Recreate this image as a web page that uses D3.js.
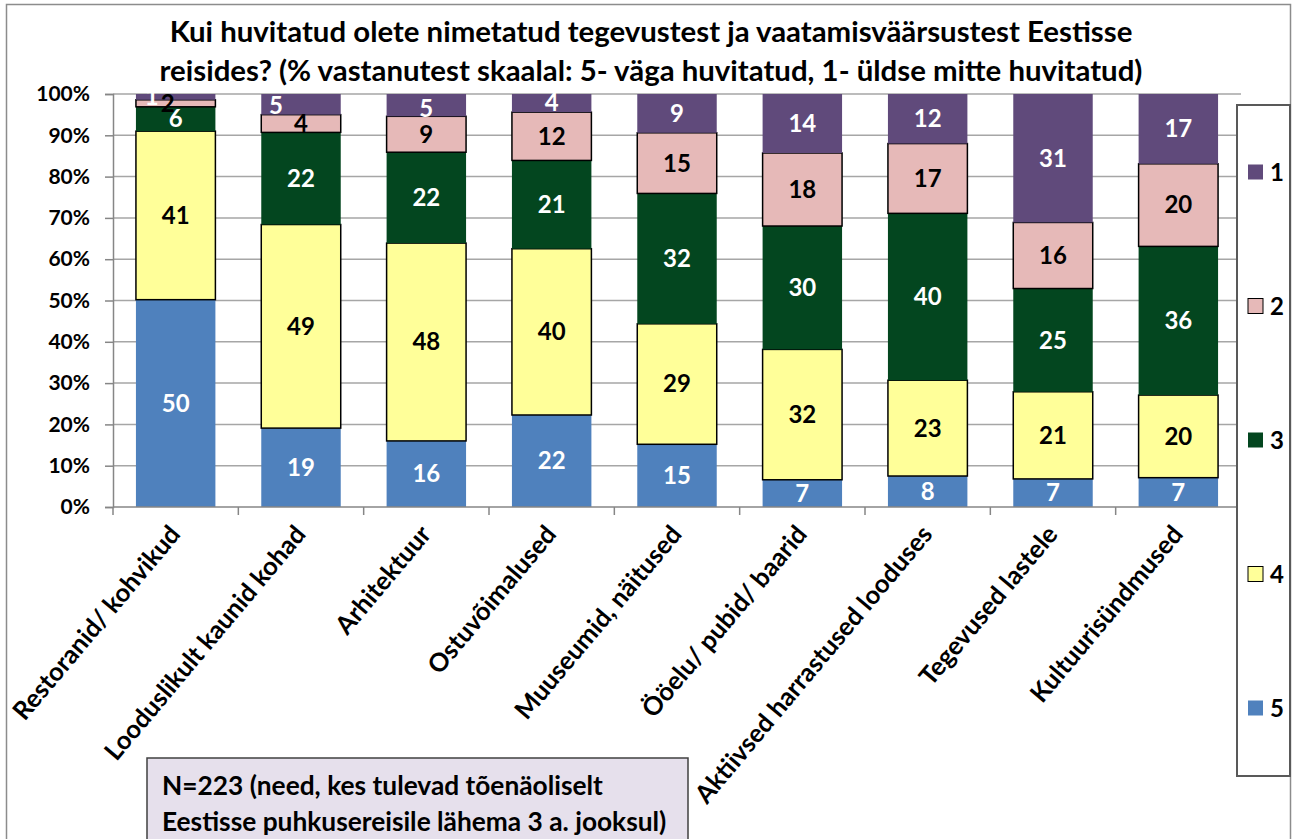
<!DOCTYPE html>
<html><head><meta charset="utf-8">
<script src="https://cdn.jsdelivr.net/npm/d3@7"></script>
<style>
body{margin:0;background:#fff}
svg{display:block}
text{font-family:Lato,"Open Sans",sans-serif;font-weight:700}
</style>
</head><body>
<svg id="chart" width="1292" height="839"></svg>
<script>
// ---- data ----
const categories = ["Restoranid/ kohvikud","Looduslikult kaunid kohad","Arhitektuur","Ostuvõimalused","Muuseumid, näitused","Ööelu/ pubid/ baarid","Aktiivsed harrastused looduses","Tegevused lastele","Kultuurisündmused"];
const seriesNames = ["5","4","3","2","1"];
const s5 = [50.2, 19.1, 16.0, 22.3, 15.2, 6.6, 7.5, 6.8, 7.1];
const s4 = [40.8, 49.3, 47.9, 40.3, 29.2, 31.6, 23.2, 21.1, 20.0];
const s3 = [5.9, 22.3, 22.0, 21.4, 31.6, 29.9, 40.4, 25.0, 36.0];
const s2 = [1.7, 4.3, 8.7, 11.7, 14.7, 17.7, 16.9, 16.0, 20.0];
const s1 = [1.4, 5.0, 5.4, 4.4, 9.4, 14.3, 12.0, 31.1, 16.9];
const yTicks = [0,0.1,0.2,0.3,0.4,0.5,0.6,0.7,0.8,0.9,1];
const titleLines = ["Kui huvitatud olete nimetatud tegevustest ja vaatamisväärsustest Eestisse","reisides? (% vastanutest skaalal: 5- väga huvitatud, 1- üldse mitte huvitatud)"];
const noteLines = ["N=223 (need, kes tulevad tõenäoliselt","Eestisse puhkusereisile lähema 3 a. jooksul)"];

// ---- styles ----
const colors = {"5":"#4F81BD","4":"#FFFF99","3":"#03461F","2":"#E6B9B8","1":"#604A7B"};
const outlined = {"4":true,"2":true};
const labelColor = {"5":"#fff","4":"#000","3":"#fff","2":"#000","1":"#fff"};
const nudge = {"0-1":[-24,0],"0-2":[-8,0],"1-1":[-25,1],"2-1":[0,3]};

const table = categories.map((c,i)=>({cat:c,"5":s5[i],"4":s4[i],"3":s3[i],"2":s2[i],"1":s1[i]}));
const stack = d3.stack().keys(seriesNames).offset(d3.stackOffsetExpand)(table);

const svg = d3.select("#chart");
const L=113,R=1241,T=94,B=507;
const x = d3.scaleBand().domain(categories).range([L,R]).paddingInner(0.366).paddingOuter(0.183);
const y = d3.scaleLinear().domain([0,1]).range([B,T]);

function fit(sel,target){
  const base=30; sel.style("font-size",base+"px");
  const w=sel.node().getComputedTextLength();
  const fs=base*target/w; sel.style("font-size",fs+"px"); return fs;
}

// outer border
svg.append("rect").attr("x",6.5).attr("y",4.5).attr("width",1284).attr("height",840)
  .attr("fill","#fff").attr("stroke","#8c8c8c").attr("stroke-width",1.5);

// gridlines
svg.append("g").selectAll("line").data(yTicks.slice(1)).join("line")
  .attr("x1",L).attr("x2",R).attr("y1",d=>y(d)).attr("y2",d=>y(d))
  .attr("stroke","#a6a6a6").attr("stroke-width",1.5);

// y axis
const yAxis = svg.append("g").attr("transform",`translate(${L},0)`)
  .call(d3.axisLeft(y).tickValues(yTicks).tickFormat(d3.format(".0%")).tickSize(8).tickPadding(15));
yAxis.select(".domain").attr("stroke","#868686").attr("stroke-width",1.5);
yAxis.selectAll(".tick line").attr("stroke","#868686").attr("stroke-width",1.5);
yAxis.selectAll(".tick text").attr("fill","#000").style("font-family","Lato").style("font-weight",700).style("font-size","21px");

// bars
svg.append("clipPath").attr("id","pa").append("rect").attr("x",L).attr("y",T-1).attr("width",R-L).attr("height",B-T+1);
const gBars = svg.append("g");
stack.forEach(layer=>{
  const k=layer.key;
  gBars.append("g").selectAll("rect").data(layer).join("rect")
    .attr("x",d=>x(d.data.cat)).attr("width",x.bandwidth())
    .attr("y",d=>y(d[1])).attr("height",d=>y(d[0])-y(d[1]))
    .attr("fill",colors[k])
    .attr("stroke",outlined[k]?"#000":"none").attr("stroke-width",1.5);
});

// x axis
svg.append("line").attr("x1",L).attr("x2",R).attr("y1",B).attr("y2",B).attr("stroke","#868686").attr("stroke-width",1.5);
const bounds = categories.map(c=>x(c)-(x.step()-x.bandwidth())/2).concat([R]);
svg.append("g").selectAll("line").data(bounds).join("line")
  .attr("x1",d=>d).attr("x2",d=>d).attr("y1",B).attr("y2",B+8).attr("stroke","#868686").attr("stroke-width",1.5);

// data labels
const gLab = svg.append("g").attr("clip-path","url(#pa)");
stack.forEach(layer=>{
  const k=layer.key;
  layer.forEach((d,i)=>{
    const n = nudge[i+"-"+k]||[0,0];
    gLab.append("text")
      .attr("x",x(d.data.cat)+x.bandwidth()/2+n[0])
      .attr("y",(y(d[0])+y(d[1]))/2+n[1])
      .attr("dy","0.35em").attr("text-anchor","middle")
      .attr("fill",labelColor[k]).style("font-size","24px")
      .text(Math.round(d.data[k]));
  });
});

// category labels
const gCat = svg.append("g");
let catFs=null;
categories.forEach((c,i)=>{
  const t = gCat.append("text").attr("text-anchor","end")
    .attr("transform",`translate(${x(c)+x.bandwidth()/2+6},535) rotate(-50)`).text(c);
  if(i===0) catFs=fit(t,244); else t.style("font-size",catFs+"px");
});

// title
const t1 = svg.append("text").attr("x",651).attr("y",42).attr("text-anchor","middle").text(titleLines[0]);
const tfs = fit(t1,963);
svg.append("text").attr("x",651).attr("y",81).attr("text-anchor","middle").style("font-size",tfs+"px").text(titleLines[1]);

// legend
svg.append("rect").attr("x",1237).attr("y",105).attr("width",53).attr("height",671)
  .attr("fill","#fff").attr("stroke","#595959").attr("stroke-width",2);
const ly = d3.scalePoint().domain(["1","2","3","4","5"]).range([172,708]);
const lg = svg.append("g").selectAll("g").data(ly.domain()).join("g").attr("transform",d=>`translate(1248,${ly(d)})`);
lg.append("rect").attr("x",0).attr("y",-7.5).attr("width",15).attr("height",15)
  .attr("fill",d=>colors[d]).attr("stroke",d=>outlined[d]?"#000":"none").attr("stroke-width",1);
lg.append("text").attr("x",22).attr("y",8.5).style("font-size","24px").text(d=>d);

// note box
svg.append("rect").attr("x",147).attr("y",758).attr("width",541).attr("height",110)
  .attr("fill","#E6E0EC").attr("stroke","#404040").attr("stroke-width",1.5);
const n1 = svg.append("text").attr("x",162).attr("y",795).text(noteLines[0]);
const nfs = fit(n1,441);
svg.append("text").attr("x",162).attr("y",831).style("font-size",nfs+"px").text(noteLines[1]);
</script>
</body></html>
